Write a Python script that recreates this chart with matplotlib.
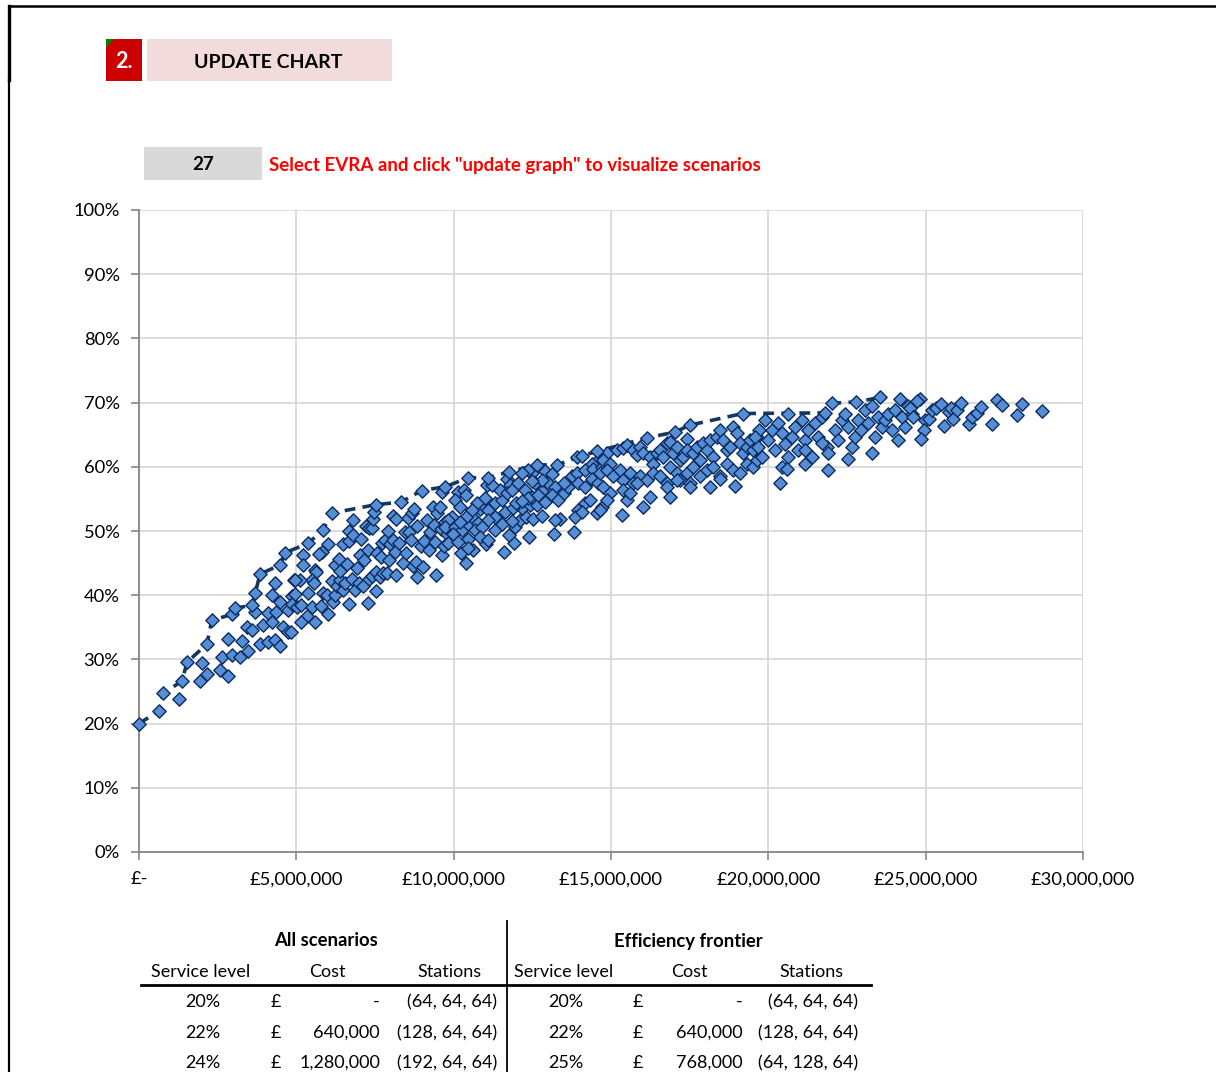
import matplotlib
matplotlib.use("Agg")
import matplotlib.pyplot as plt
import numpy as np
from matplotlib.patches import Rectangle, Polygon
from matplotlib.ticker import FuncFormatter, MultipleLocator

plt.rcParams['font.family'] = ['Lato', 'DejaVu Sans']

# efficiency frontier (cost in £m, service level in %)
frontier_cost = [0.0, 0.64, 0.768, 1.357, 1.535, 2.161, 2.313, 2.955, 3.051, 3.601, 3.696,
                 3.845, 4.487, 4.640, 5.380, 5.832, 6.140, 7.525, 8.326, 8.984, 9.740,
                 10.465, 11.10, 11.758, 12.648, 13.284, 14.069, 14.555, 16.134, 17.024,
                 17.51, 19.185, 21.80, 22.01, 22.78, 23.56]
frontier_level = [20.0, 22.0, 24.7, 26.6, 29.6, 32.4, 36.1, 37.0, 38.0, 38.4, 40.3,
                  43.3, 44.7, 46.6, 48.1, 50.1, 52.8, 54.1, 54.5, 56.3, 56.9,
                  58.3, 58.3, 59.2, 60.3, 60.3, 61.7, 62.4, 64.5, 65.4,
                  66.5, 68.3, 68.4, 69.9, 70.1, 70.8]

# all scenarios (cost in £m, service level in %)
scen_cost = [
    1.271, 1.929, 2.012, 2.161, 2.565, 2.647, 2.819, 2.819, 2.946, 3.200, 3.283, 3.455,
    3.432, 3.601, 3.696, 3.836, 3.941, 4.090, 4.100, 4.236, 4.236, 4.332, 4.332, 4.344,
    4.471, 4.490, 4.576, 4.726, 4.726, 4.853, 4.916, 4.872,
    5.221, 6.006, 5.816, 5.711, 5.221, 5.584, 5.625, 5.498, 5.562, 5.117, 4.967, 4.948,
    5.371, 5.012, 5.158, 5.498, 5.774, 5.349, 5.139, 5.603, 6.006, 4.821, 5.857, 5.984,
    6.156, 6.219, 6.134, 6.283, 6.493, 6.664, 6.388, 6.537, 6.769, 6.855, 6.982, 7.128,
    7.278, 7.300, 7.405, 7.532, 7.532, 7.659, 7.764, 7.891, 8.167, 8.825, 9.439, 6.219,
    6.366, 6.388, 6.601, 6.473, 6.664, 6.664, 6.791, 6.791, 6.918, 7.023, 7.065, 7.150,
    7.278, 7.214, 7.300, 7.405, 7.427, 7.468, 7.573, 7.681, 7.722, 7.827, 7.913, 7.977,
    7.935, 8.082, 8.062, 8.167, 8.145, 8.272, 8.399, 8.485, 8.463, 8.549, 8.571, 8.635,
    8.676, 8.739, 8.825, 8.698, 8.803, 8.952, 9.035, 9.057, 9.143, 9.207, 9.248, 9.334,
    9.375, 9.397, 9.461, 9.566, 9.588, 9.629, 9.693, 9.734, 9.778, 9.629,
    11.06, 11.695, 11.80, 12.50, 12.353, 12.903, 13.115, 13.919, 14.577, 14.387,
    10.147, 10.042, 10.319, 10.402, 10.192, 9.938, 9.830, 9.725, 10.042, 10.255, 10.465,
    10.637, 10.827, 10.955, 11.101, 11.314, 11.527, 11.314, 11.101, 10.783, 10.678, 10.465,
    10.891, 10.847, 11.018, 11.101, 10.383, 10.233, 10.614, 11.609, 11.908, 11.759, 12.394,
    13.179, 13.834, 11.949, 12.118, 12.308, 12.521, 12.798, 12.162, 12.416, 12.648, 12.903,
    12.480, 12.798, 13.008, 13.220, 13.116, 13.325, 13.497, 13.643, 13.497, 13.751, 13.920,
    14.174, 14.428, 14.705, 13.961, 14.174, 14.387, 14.597, 14.174, 13.961, 13.856, 14.088,
    14.323, 14.555, 14.705, 13.389, 13.220, 11.482, 11.695, 11.845, 12.054, 12.267, 12.372,
    11.314, 11.546, 11.844, 11.631, 11.886, 11.991, 12.162, 12.690, 12.585, 12.798, 12.480,
    12.162, 11.209, 10.996, 10.742, 10.573, 10.402, 10.211, 9.979, 9.830, 10.147, 10.446,
    14.86, 14.76, 14.97, 15.18, 15.39, 15.50, 15.71, 15.82, 15.92, 16.03, 16.24, 16.35,
    16.45, 16.56, 16.77, 16.88, 16.66, 16.98, 17.09, 17.19, 17.30, 17.40, 17.43, 17.62,
    17.72, 17.83, 17.93, 18.04, 18.15, 18.25, 18.36, 18.46, 18.57, 18.68, 18.78, 18.89,
    18.99, 19.10, 19.21, 19.31, 19.42, 19.52, 19.63, 19.69,
    14.65, 14.86, 15.07, 15.29, 15.39, 15.60, 15.71, 15.92, 16.13, 16.35, 16.56, 16.77,
    16.88, 17.09, 17.19, 17.40, 17.51, 17.62, 17.83, 18.04, 18.25, 18.46, 18.68, 18.89,
    19.10, 19.31, 19.52, 19.63,
    14.76, 14.97, 14.86, 15.39, 15.50, 15.60, 15.82, 16.03, 16.24, 16.77, 16.88, 17.09,
    17.51, 18.15, 18.94, 15.35, 14.65, 18.46,
    19.58, 19.68, 19.79, 19.89, 20.00, 20.11, 20.21, 20.32, 20.42, 20.53, 20.63, 20.63,
    20.74, 20.85, 20.95, 21.06, 21.16, 21.27, 21.38, 21.48, 21.59, 21.69, 21.85, 21.91,
    22.12, 22.22, 22.33, 22.44, 22.54, 22.65, 22.75, 22.86, 22.96, 23.07, 23.18, 23.28,
    23.39, 23.50, 23.60, 23.71, 23.81, 23.92, 24.02, 24.13, 24.19, 24.24, 24.34, 24.45,
    24.55, 20.42, 20.59, 21.16, 21.91, 22.54, 23.28, 20.37, 21.16, 21.69,
    24.82, 24.71, 24.50, 24.59, 24.97, 25.12, 24.95, 24.84, 25.20, 25.33, 25.50, 25.58,
    25.73, 25.79, 25.88, 25.99, 26.11, 26.37, 26.47, 26.62, 26.75, 27.11, 27.26, 27.41,
    27.89, 28.06, 28.70,
]
scen_level = [
    23.8, 26.7, 29.5, 27.8, 28.3, 30.3, 27.4, 33.2, 30.7, 30.3, 32.9, 31.3,
    35.0, 34.6, 37.4, 32.4, 35.4, 37.3, 32.7, 40.1, 35.8, 41.9, 33.0, 37.4,
    39.0, 32.1, 35.1, 34.2, 37.7, 39.8, 42.4, 38.6,
    46.3, 47.9, 46.7, 46.4, 44.7, 44.0, 43.6, 42.4, 41.9, 42.4, 42.4, 40.2,
    40.4, 38.2, 38.4, 38.2, 38.3, 36.8, 35.8, 35.8, 37.1, 34.2, 40.3, 40.1,
    38.9, 40.0, 42.2, 41.4, 40.8, 38.6, 42.4, 41.9, 42.6, 40.8, 41.9, 41.5,
    38.8, 42.6, 43.0, 40.7, 43.6, 42.9, 43.5, 43.4, 43.2, 42.8, 43.2, 44.7,
    45.6, 43.8, 44.9, 47.9, 50.0, 48.4, 51.7, 49.4, 44.3, 46.3, 48.8, 45.5,
    47.0, 50.8, 50.4, 50.4, 51.8, 52.9, 46.5, 46.0, 48.1, 48.6, 50.0, 47.9,
    45.5, 48.6, 52.4, 51.9, 46.7, 48.2, 45.0, 46.5, 49.8, 52.0, 49.8, 48.6,
    52.8, 53.5, 50.8, 44.5, 45.1, 47.7, 44.4, 48.4, 51.7, 47.0, 49.8, 53.7,
    51.0, 48.3, 52.8, 53.8, 50.3, 46.3, 47.6, 51.4, 49.6, 56.1,
    57.1, 58.1, 57.2, 59.0, 59.5, 59.3, 58.9, 61.5, 61.1, 60.4,
    56.0, 54.8, 56.4, 55.6, 53.8, 52.2, 51.7, 50.7, 50.7, 50.2, 51.1,
    51.9, 53.5, 53.9, 53.3, 54.3, 54.8, 52.2, 51.7, 51.2, 50.2, 48.7,
    50.7, 49.0, 48.0, 48.6, 45.0, 46.6, 47.1, 46.8, 48.1, 49.4, 49.0,
    49.5, 49.8, 50.7, 51.7, 52.2, 51.9, 52.4, 53.6, 54.0, 54.0, 54.5,
    55.3, 56.3, 57.4, 56.9, 55.6, 54.8, 55.9, 56.9, 57.5, 58.5, 59.1,
    59.5, 59.7, 60.0, 57.4, 56.9, 58.1, 57.4, 54.3, 53.3, 52.2, 53.0,
    54.8, 52.8, 53.8, 51.9, 51.7, 56.4, 55.9, 56.4, 57.4, 56.4, 55.1,
    50.2, 51.1, 51.5, 53.0, 53.6, 54.3, 54.6, 55.6, 57.4, 57.9, 57.8,
    59.0, 57.1, 55.2, 54.3, 53.3, 52.2, 51.4, 49.6, 48.1, 48.3, 47.4,
    62.1, 61.1, 60.5, 62.6, 62.9, 63.4, 62.6, 61.8, 63.1, 62.1, 61.6, 60.5,
    62.1, 62.6, 63.7, 63.9, 61.6, 62.1, 63.1, 61.1, 61.6, 64.4, 62.6, 62.1,
    63.1, 61.1, 63.7, 62.6, 64.2, 61.6, 64.7, 65.7, 64.2, 62.6, 63.1, 66.2,
    65.2, 63.7, 62.1, 63.1, 64.2, 62.6, 64.7, 65.7,
    59.0, 59.5, 58.5, 59.5, 57.9, 59.0, 57.4, 58.5, 57.9, 59.0, 58.5, 57.4,
    60.0, 59.0, 57.9, 59.0, 57.4, 60.0, 58.5, 59.5, 60.0, 58.5, 60.5, 59.5,
    59.0, 60.5, 60.0, 61.1,
    56.9, 55.9, 54.8, 56.4, 54.8, 55.9, 57.4, 53.8, 55.3, 56.9, 55.3, 57.9,
    56.9, 56.9, 57.0, 52.5, 53.3, 58.1,
    64.7, 63.1, 61.6, 67.3, 64.2, 65.7, 62.6, 66.8, 65.2, 63.6, 68.3, 61.6,
    64.7, 66.2, 62.6, 67.3, 64.2, 65.7, 61.6, 66.8, 64.7, 67.8, 63.1, 62.1,
    65.7, 64.2, 67.3, 68.3, 66.2, 63.1, 64.7, 67.3, 65.7, 68.8, 66.8, 69.4,
    64.7, 67.8, 66.2, 67.3, 68.3, 65.7, 68.8, 64.2, 70.5, 67.8, 66.2, 69.4,
    68.3, 60.0, 59.7, 60.5, 59.5, 61.2, 62.1, 57.5, 62.6, 63.7,
    70.5, 70.2, 69.1, 67.8, 67.3, 67.5, 65.8, 64.3, 68.9, 69.1, 69.8, 66.4,
    68.5, 69.1, 67.5, 68.9, 70.0, 66.6, 67.8, 68.4, 69.3, 66.6, 70.4, 69.7,
    68.1, 69.8, 68.7,
]

# summary table below the chart
table_levels_all = ['20%', '22%', '24%']
table_costs_all = ['-', '640,000', '1,280,000']
table_stations_all = ['(64, 64, 64)', '(128, 64, 64)', '(192, 64, 64)']
table_levels_front = ['20%', '22%', '25%']
table_costs_front = ['-', '640,000', '768,000']
table_stations_front = ['(64, 64, 64)', '(128, 64, 64)', '(64, 128, 64)']

W, H = 1216, 1072
fig = plt.figure(figsize=(W / 100, H / 100), dpi=100)


def fx(px):
    return px / W


def fy(py):
    return 1 - py / H


# sheet borders
fig.add_artist(plt.Line2D([fx(9), fx(9)], [fy(6), fy(80)], color='black', lw=2.4))
fig.add_artist(plt.Line2D([fx(9), fx(9)], [fy(80), fy(1072)], color='black', lw=1.6))
fig.add_artist(plt.Line2D([fx(9), fx(1216)], [fy(6), fy(6)], color='black', lw=1.8))

# update button
fig.add_artist(Rectangle((fx(106), fy(81)), fx(142) - fx(106), fy(39) - fy(81),
                         facecolor='#CC0000', edgecolor='none'))
fig.add_artist(Polygon([[fx(106), fy(39)], [fx(114), fy(39)], [fx(106), fy(47)]],
                       closed=True, facecolor='#008000', edgecolor='none'))
fig.text(fx(124), fy(61), '2.', color='white', fontsize=15.5, fontweight='bold',
         ha='center', va='center')
fig.add_artist(Rectangle((fx(147), fy(81)), fx(392) - fx(147), fy(39) - fy(81),
                         facecolor='#F2DCDB', edgecolor='none'))
fig.text(fx(268), fy(62), 'UPDATE CHART', color='black', fontsize=14, fontweight='bold',
         ha='center', va='center')

# selected EVRA
fig.add_artist(Rectangle((fx(144), fy(180)), fx(262) - fx(144), fy(147) - fy(180),
                         facecolor='#D9D9D9', edgecolor='none'))
fig.text(fx(203), fy(165), '27', color='black', fontsize=13.5, fontweight='bold',
         ha='center', va='center')
fig.text(fx(269), fy(166), 'Select EVRA and click "update graph" to visualize scenarios',
         color='#FF0000', fontsize=13.5, fontweight='bold', ha='left', va='center')

# chart
ax = fig.add_axes([fx(139), fy(852), fx(1083) - fx(139), fy(210) - fy(852)])
ax.set_xlim(0, 30e6)
ax.set_ylim(0, 1.0)
ax.xaxis.set_major_locator(MultipleLocator(5e6))
ax.yaxis.set_major_locator(MultipleLocator(0.1))
ax.grid(True, color='#D9D9D9', lw=1.3)
ax.set_axisbelow(True)
for side in ['top', 'right']:
    ax.spines[side].set_visible(False)
for side in ['left', 'bottom']:
    ax.spines[side].set_color('#868686')
    ax.spines[side].set_linewidth(1.3)
ax.tick_params(direction='out', length=6, width=1.2, color='#868686',
               labelsize=13.2, labelcolor='black', pad=8)
ax.xaxis.set_major_formatter(FuncFormatter(
    lambda v, p: '£-' if v == 0 else '£{:,.0f}'.format(v)))
ax.yaxis.set_major_formatter(FuncFormatter(lambda v, p: '{:.0f}%'.format(v * 100)))

fc = np.array(frontier_cost) * 1e6
fl = np.array(frontier_level) / 100
sc = np.array(scen_cost) * 1e6
sl = np.array(scen_level) / 100

ax.plot(fc, fl, color='#17375E', lw=2.6, ls=(0, (3.0, 2.0)), zorder=2)
ax.scatter(sc, sl, marker='D', s=46, facecolor='#558ED5', edgecolor='#0B2A5E',
           linewidth=1.0, zorder=3, clip_on=False)
ax.scatter(fc, fl, marker='D', s=46, facecolor='#558ED5', edgecolor='#0B2A5E',
           linewidth=1.0, zorder=3, clip_on=False)

# table
fig.add_artist(plt.Line2D([fx(507), fx(507)], [fy(921), fy(1072)], color='black', lw=1.3))
fig.add_artist(plt.Line2D([fx(141), fx(871)], [fy(985), fy(985)], color='black', lw=2))
fig.text(fx(326), fy(941), 'All scenarios', fontsize=13.3, fontweight='bold',
         ha='center', va='center')
fig.text(fx(688), fy(941), 'Efficiency frontier', fontsize=13.3, fontweight='bold',
         ha='center', va='center')
for x0, name in [(201, 'Service level'), (327, 'Cost'), (449, 'Stations'),
                 (564, 'Service level'), (689, 'Cost'), (811, 'Stations')]:
    fig.text(fx(x0), fy(972), name, fontsize=13, ha='center', va='center')

row_y = [1002, 1033, 1063]
for i, y in enumerate(row_y):
    fig.text(fx(203), fy(y), table_levels_all[i], fontsize=13, ha='center', va='center')
    fig.text(fx(276), fy(y), '£', fontsize=13, ha='center', va='center')
    fig.text(fx(380), fy(y), table_costs_all[i], fontsize=13, ha='right', va='center')
    fig.text(fx(497), fy(y), table_stations_all[i], fontsize=13, ha='right', va='center')
    fig.text(fx(566), fy(y), table_levels_front[i], fontsize=13, ha='center', va='center')
    fig.text(fx(638), fy(y), '£', fontsize=13, ha='center', va='center')
    fig.text(fx(743), fy(y), table_costs_front[i], fontsize=13, ha='right', va='center')
    fig.text(fx(858), fy(y), table_stations_front[i], fontsize=13, ha='right', va='center')

fig.savefig('out.png', dpi=100)
